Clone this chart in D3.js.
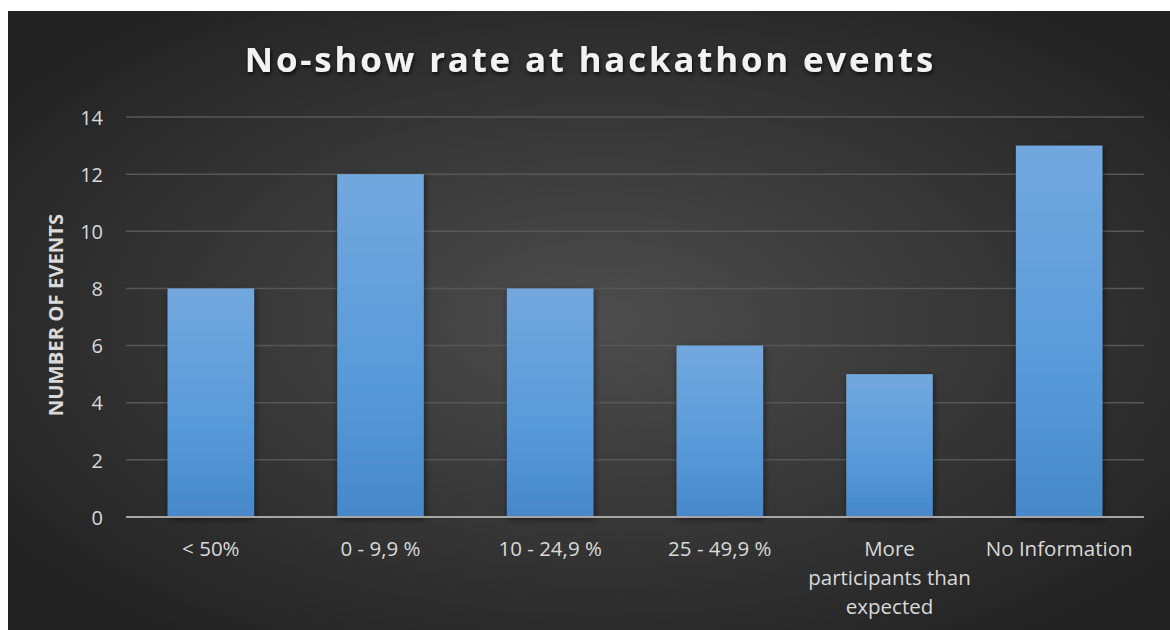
<!DOCTYPE html>
<html>
<head>
<meta charset="utf-8">
<script src="https://cdn.jsdelivr.net/npm/d3@7/dist/d3.min.js"></script>
<style>
  html, body { margin: 0; padding: 0; background: #ffffff; }
  svg { display: block; }
</style>
</head>
<body>
<svg id="chart" width="1170" height="630"></svg>
<script>
// Chart data
const categories = ["< 50%", "0 - 9,9 %", "10 - 24,9 %", "25 - 49,9 %", "More participants than expected", "No Information"];
const categoryLines = [["< 50%"], ["0 - 9,9 %"], ["10 - 24,9 %"], ["25 - 49,9 %"], ["More", "participants than", "expected"], ["No Information"]];
const events = [8, 12, 8, 6, 5, 13];
const yTicks = [0, 2, 4, 6, 8, 10, 12, 14];
const titleText = "No-show rate at hackathon events";
const yAxisTitle = "NUMBER OF EVENTS";

const W = 1170, H = 630;
const frame = { x: 8, y: 11, w: W - 8, h: H - 11 };
const plot = { left: 126, right: 1144, top: 117, bottom: 517 };
const font = "'Open Sans', sans-serif";
const labelColor = "#d9d9d9";

const svg = d3.select("#chart");
const defs = svg.append("defs");

// Dark radial background
const bg = defs.append("radialGradient").attr("id", "bgGrad")
  .attr("cx", "51%").attr("cy", "50%").attr("r", "62%");
bg.append("stop").attr("offset", "0%").attr("stop-color", "#4d4d4d");
bg.append("stop").attr("offset", "100%").attr("stop-color", "#232323");

// Bar fill gradient
const barGrad = defs.append("linearGradient").attr("id", "barGrad")
  .attr("x1", 0).attr("y1", 0).attr("x2", 0).attr("y2", 1);
barGrad.append("stop").attr("offset", "0%").attr("stop-color", "#73a8de");
barGrad.append("stop").attr("offset", "60%").attr("stop-color", "#589ad9");
barGrad.append("stop").attr("offset", "100%").attr("stop-color", "#4688ca");

const shadow = defs.append("filter").attr("id", "barShadow")
  .attr("x", "-20%").attr("y", "-20%").attr("width", "140%").attr("height", "140%");
shadow.append("feDropShadow").attr("dx", 1).attr("dy", 2).attr("stdDeviation", 3)
  .attr("flood-color", "#000").attr("flood-opacity", 0.55);

const titleShadow = defs.append("filter").attr("id", "titleShadow")
  .attr("x", "-10%").attr("y", "-30%").attr("width", "120%").attr("height", "160%");
titleShadow.append("feDropShadow").attr("dx", 1).attr("dy", 2).attr("stdDeviation", 2)
  .attr("flood-color", "#000").attr("flood-opacity", 0.8);

svg.append("rect")
  .attr("x", frame.x).attr("y", frame.y)
  .attr("width", frame.w).attr("height", frame.h)
  .attr("fill", "url(#bgGrad)");

// Scales
const x = d3.scaleBand().domain(categories)
  .range([plot.left, plot.right]).paddingInner(0.49).paddingOuter(0.245);
const y = d3.scaleLinear().domain([0, 14]).range([plot.bottom, plot.top]);

// Gridlines
svg.append("g")
  .selectAll("line")
  .data(yTicks.filter(d => d > 0))
  .join("line")
  .attr("x1", plot.left).attr("x2", plot.right)
  .attr("y1", d => y(d)).attr("y2", d => y(d))
  .attr("stroke", "#575757").attr("stroke-width", 1.5);

// Bars
svg.append("g")
  .selectAll("rect")
  .data(categories.map((c, i) => ({ c, v: events[i] })))
  .join("rect")
  .attr("x", d => x(d.c))
  .attr("width", x.bandwidth())
  .attr("y", d => y(d.v))
  .attr("height", d => y(0) - y(d.v))
  .attr("fill", "url(#barGrad)")
  .attr("filter", "url(#barShadow)");

// Y axis ticks
const yAxis = d3.axisLeft(y).tickValues(yTicks).tickSize(0).tickPadding(0);
const yG = svg.append("g").attr("transform", `translate(${plot.left - 23},0)`).call(yAxis);
yG.select(".domain").remove();
yG.attr("font-size", null).attr("font-family", null);
yG.selectAll("text")
  .style("fill", labelColor)
  .style("font-family", font)
  .style("font-size", "20px")
  .attr("dy", "0.36em");

// Baseline
svg.append("line")
  .attr("x1", plot.left).attr("x2", plot.right)
  .attr("y1", y(0)).attr("y2", y(0))
  .attr("stroke", "#a6a6a6").attr("stroke-width", 2.2);

// X axis labels (ticks from the band scale, text built line by line)
const xAxis = d3.axisBottom(x).tickSize(0).tickPadding(0);
const xG = svg.append("g").attr("transform", `translate(0,${plot.bottom})`).call(xAxis);
xG.select(".domain").remove();
xG.selectAll(".tick text").remove();
xG.selectAll(".tick").each(function (d) {
  const lines = categoryLines[categories.indexOf(d)];
  const t = d3.select(this).append("text")
    .attr("text-anchor", "middle")
    .style("fill", labelColor)
    .style("font-family", font)
    .style("font-size", "20.5px");
  lines.forEach((l, i) => {
    t.append("tspan").attr("x", 0).attr("y", 39 + i * 29).text(l);
  });
});

// Y axis title
svg.append("text")
  .attr("transform", `translate(63,${(plot.top + plot.bottom) / 2 - 2}) rotate(-90)`)
  .attr("text-anchor", "middle")
  .style("fill", labelColor)
  .style("font-family", font)
  .style("font-weight", "bold")
  .style("font-size", "20.3px")
  .text(yAxisTitle);

// Title
svg.append("text")
  .attr("x", 590.5).attr("y", 72)
  .attr("text-anchor", "middle")
  .style("fill", "#f2f2f2")
  .style("font-family", font)
  .style("font-weight", "bold")
  .style("font-size", "34.8px")
  .style("letter-spacing", "2.85px")
  .attr("filter", "url(#titleShadow)")
  .text(titleText);
</script>
</body>
</html>
